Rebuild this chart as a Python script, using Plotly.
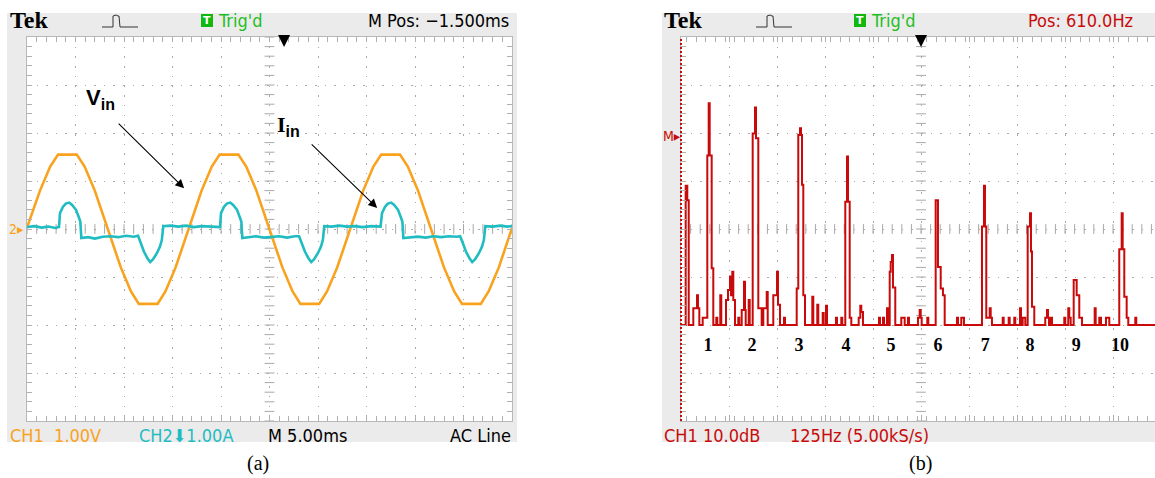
import plotly.graph_objects as go
import numpy as np

W, H = 1155, 478

# ---------------- Panel (a): time domain (t in ms, values in divisions: 1 V/div, 1 A/div)
vin = [(0.0, 0.03), (1.34, 0.8), (2.39, 1.3), (3.2, 1.55), (5.13, 1.55), (5.94, 1.3), (6.99, 0.8),
       (8.33, 0.0), (9.67, -0.8), (10.72, -1.3), (11.53, -1.56), (13.46, -1.56), (14.27, -1.3),
       (15.32, -0.8), (16.66, 0.0), (18.0, 0.8), (19.05, 1.3), (19.86, 1.55), (21.79, 1.55),
       (22.6, 1.3), (23.65, 0.8), (24.99, 0.0), (26.33, -0.8), (27.38, -1.3), (28.19, -1.56),
       (30.12, -1.56), (30.93, -1.3), (31.98, -0.8), (33.32, 0.0), (34.66, 0.8), (35.71, 1.3),
       (36.52, 1.55), (38.45, 1.55), (39.26, 1.3), (40.31, 0.8), (41.65, 0.0), (42.99, -0.8),
       (44.04, -1.3), (44.85, -1.56), (46.78, -1.56), (47.59, -1.3), (48.64, -0.8), (49.98, 0.0),
       (50.0, 0.02)]

iin = [(0.0, 0.04), (0.8, 0.06), (1.5, 0.03), (2.2, 0.05), (2.9, 0.02), (3.3, 0.04), (3.4, 0.33),
       (3.7, 0.46), (4.0, 0.53), (4.35, 0.55), (4.65, 0.5), (5.05, 0.4), (5.35, 0.24), (5.5, 0.15),
       (5.6, -0.19), (6.3, -0.17), (7.0, -0.2), (7.8, -0.16), (8.6, -0.15), (9.4, -0.17),
       (10.2, -0.14), (11.0, -0.16), (11.45, -0.14), (11.65, -0.25), (12.05, -0.47), (12.45, -0.62),
       (12.7, -0.69), (13.0, -0.63), (13.4, -0.5), (13.7, -0.37), (13.9, -0.23), (14.05, 0.06),
       (14.8, 0.07), (15.6, 0.05), (16.4, 0.07), (17.2, 0.04), (18.0, 0.06), (19.0, 0.05),
       (19.9, 0.04), (20.0, 0.33), (20.3, 0.46), (20.6, 0.53), (20.95, 0.55), (21.25, 0.5),
       (21.65, 0.4), (21.95, 0.24), (22.1, 0.15), (22.2, -0.19), (22.9, -0.17), (23.6, -0.15),
       (24.4, -0.18), (25.2, -0.16), (26.0, -0.15), (26.8, -0.18), (27.6, -0.15), (28.05, -0.15),
       (28.25, -0.25), (28.65, -0.47), (29.05, -0.62), (29.3, -0.69), (29.6, -0.63), (30.0, -0.5),
       (30.3, -0.37), (30.5, -0.23), (30.65, 0.06), (31.4, 0.05), (32.2, 0.07), (33.0, 0.05),
       (33.8, 0.06), (34.6, 0.04), (35.5, 0.06), (36.45, 0.05), (36.6, 0.33), (36.9, 0.46),
       (37.2, 0.53), (37.55, 0.55), (37.85, 0.5), (38.25, 0.4), (38.55, 0.24), (38.7, 0.15),
       (38.8, -0.19), (39.5, -0.17), (40.3, -0.16), (41.1, -0.18), (41.9, -0.15), (42.7, -0.17),
       (43.5, -0.15), (44.3, -0.16), (44.65, -0.15), (44.85, -0.25), (45.25, -0.47), (45.65, -0.62),
       (45.9, -0.69), (46.2, -0.63), (46.6, -0.5), (46.9, -0.37), (47.1, -0.23), (47.25, 0.06),
       (48.0, 0.05), (48.8, 0.07), (49.5, 0.05), (50.0, 0.06)]

# ---------------- Panel (b): spectrum (Hz, dB), step trace
spectrum = [(-15.0, -60), (-2.8, -31.0), (1.4, -34.0), (5.1, -60), (17.0, -56.5), (26.7, -53.8),
            (29.3, -56.5), (32.7, -60), (41.5, -58.5), (53.5, -24.7), (57.1, -13.8), (59.7, -24.7),
            (64.9, -48.2), (69.1, -60), (76.9, -58.5), (79.5, -60), (87.3, -53.8), (89.9, -60),
            (102.2, -54.8), (107.4, -52.7), (112.6, -49.9), (115.2, -53.8), (118.6, -48.9),
            (121.2, -54.8), (125.6, -60), (134.2, -58.5), (136.8, -60), (143.1, -56.9),
            (149.1, -51.0), (151.7, -56.9), (153.5, -60), (161.3, -54.8), (163.9, -60),
            (171.7, -20.1), (177.7, -14.7), (180.3, -21.1), (186.3, -56.5), (195.1, -60),
            (199.3, -56.5), (208.2, -53.1), (210.8, -60), (225.3, -53.8), (235.0, -48.9),
            (237.6, -55.8), (242.8, -60), (253.2, -58.5), (255.8, -60), (286.3, -52.4),
            (290.4, -20.4), (294.9, -19.0), (297.5, -20.4), (300.1, -30.8), (303.5, -53.8),
            (307.9, -60), (326.9, -54.1), (329.5, -60), (339.9, -55.8), (342.5, -60),
            (354.0, -57.5), (356.6, -60), (362.6, -56.0), (365.2, -60), (388.6, -58.5),
            (391.2, -60), (402.4, -58.5), (405.0, -60), (412.8, -34.3), (417.3, -24.9),
            (419.9, -34.3), (424.3, -58.5), (428.5, -60), (447.7, -58.5), (451.9, -56.0),
            (454.5, -57.3), (458.9, -60), (500.6, -58.5), (503.2, -60), (511.0, -58.5),
            (513.6, -60), (521.4, -56.5), (524.0, -60), (528.5, -48.9), (531.1, -46.9),
            (534.4, -45.4), (537.0, -52.2), (543.0, -60), (558.7, -58.5), (567.5, -60),
            (576.1, -58.5), (578.7, -60), (602.1, -58.5), (606.6, -56.9), (609.2, -58.5),
            (611.8, -60), (626.4, -58.5), (629.0, -60), (648.2, -34.0), (654.2, -47.9),
            (661.3, -52.4), (667.2, -53.8), (671.7, -60), (703.7, -58.5), (706.3, -60),
            (714.9, -58.5), (721.9, -60), (768.8, -39.5), (774.0, -31.0), (776.6, -39.5),
            (780.0, -58.5), (788.9, -56.5), (791.5, -58.5), (794.8, -60), (822.7, -58.5),
            (825.3, -60), (838.3, -58.5), (840.9, -60), (852.9, -58.5), (855.5, -60),
            (867.8, -56.5), (870.4, -60), (874.8, -58.5), (881.6, -60), (887.8, -39.5),
            (893.8, -36.7), (896.4, -44.7), (899.0, -56.2), (905.0, -60), (933.6, -58.5),
            (938.1, -56.9), (940.7, -58.5), (943.3, -60), (948.5, -58.5), (951.1, -60),
            (983.1, -58.5), (985.7, -60), (993.5, -56.5), (996.1, -58.5), (999.8, -60),
            (1007.6, -50.6), (1015.4, -53.8), (1022.2, -58.5), (1029.2, -60), (1062.3, -56.5),
            (1064.9, -60), (1074.3, -58.5), (1078.7, -60), (1091.7, -58.5), (1100.3, -60),
            (1126.3, -44.2), (1132.6, -36.7), (1135.2, -44.2), (1139.4, -54.1), (1145.6, -58.5),
            (1149.8, -60), (1168.0, -58.5), (1170.6, -60), (1235.0, -60)]

harmonic_labels = ['1', '2', '3', '4', '5', '6', '7', '8', '9', '10']
harmonic_label_f = [55, 170, 292, 415, 532, 654, 777, 894, 1014, 1128]

# ---------------- colours / fonts
ORANGE = '#f9a21e'
CYAN = '#1fbcc2'
RED = '#c80a0a'
GREEN = '#1fbf1f'
GRID = '#a9a9a9'
PANEL = '#ebebeb'
TEKFONT = 'Liberation Sans Narrow, Arial Narrow, DejaVu Sans Condensed, sans-serif'
SERIF = 'Liberation Serif, Times New Roman, serif'
SANS = 'Liberation Sans, Arial, sans-serif'

def px(x):
    return x / W

def py(y):
    return 1 - y / H

# plot geometry (pixels)
A_L, A_R = 27, 512
B_L, B_R = 681, 1155
G_T, G_B = 37, 421

fig = go.Figure()

t_v, v_v = zip(*vin)
t_i, v_i = zip(*iin)
f_s, d_s = zip(*spectrum)

# crosshair ticks
a_cx = np.arange(0, 50.001, 1.0)
a_cy = np.arange(-4, 4.001, 0.2)
b_cx = np.arange(-15, 1220, 25.0)
b_cy = np.arange(-80, 0.001, 2.0)
tickmark = dict(color='#a8a8a8', size=7, line=dict(color='#a8a8a8', width=1))
fig.add_trace(go.Scatter(x=a_cx, y=[0] * len(a_cx), mode='markers', xaxis='x', yaxis='y',
                         marker=dict(symbol='line-ns', **tickmark), hoverinfo='skip'))
fig.add_trace(go.Scatter(x=[25] * len(a_cy), y=a_cy, mode='markers', xaxis='x', yaxis='y',
                         marker=dict(symbol='line-ew', **tickmark), hoverinfo='skip'))
fig.add_trace(go.Scatter(x=b_cx, y=[-40] * len(b_cx), mode='markers', xaxis='x2', yaxis='y2',
                         marker=dict(symbol='line-ns', **tickmark), hoverinfo='skip'))
fig.add_trace(go.Scatter(x=[610] * len(b_cy), y=b_cy, mode='markers', xaxis='x2', yaxis='y2',
                         marker=dict(symbol='line-ew', **tickmark), hoverinfo='skip'))

# waveforms
fig.add_trace(go.Scatter(x=t_v, y=v_v, mode='lines', xaxis='x', yaxis='y',
                         line=dict(color=ORANGE, width=2.6), name='Vin'))
fig.add_trace(go.Scatter(x=t_i, y=v_i, mode='lines', xaxis='x', yaxis='y',
                         line=dict(color=CYAN, width=2.6), name='Iin'))
# spectrum
fig.add_trace(go.Scatter(x=f_s, y=d_s, mode='lines', xaxis='x2', yaxis='y2',
                         line=dict(color=RED, width=2, shape='hv'), name='FFT'))
# harmonic numbers
fig.add_trace(go.Scatter(x=harmonic_label_f, y=[-64.4] * len(harmonic_label_f), mode='text',
                         xaxis='x2', yaxis='y2', text=[f'<b>{s}</b>' for s in harmonic_labels],
                         textfont=dict(family=SERIF, size=18, color='black'), hoverinfo='skip'))

common_x = dict(showticklabels=False, ticks='inside', ticklen=5, tickcolor='#b0b0b0', tickwidth=1,
                showline=True, linecolor='#b8b8b8', linewidth=1, mirror='ticks',
                showgrid=True, gridcolor=GRID, gridwidth=1, griddash='1.5px,8.2px',
                zeroline=False, fixedrange=True)
common_y = dict(showticklabels=False, ticks='inside', ticklen=5, tickcolor='#b0b0b0', tickwidth=1,
                showline=True, linecolor='#b8b8b8', linewidth=1,
                showgrid=True, gridcolor=GRID, gridwidth=1, griddash='1.5px,8.1px',
                zeroline=False, fixedrange=True)

fig.update_layout(
    width=W, height=H, margin=dict(l=0, r=0, t=0, b=0),
    paper_bgcolor='white', plot_bgcolor='white', showlegend=False,
    xaxis=dict(domain=[px(A_L), px(A_R)], range=[0, 50], dtick=5, tick0=0,
               minor=dict(dtick=1, ticks='inside', ticklen=5, tickcolor='#b0b0b0', showgrid=False),
               anchor='y', **common_x),
    yaxis=dict(domain=[py(G_B), py(G_T)], range=[-4, 4], dtick=1, tick0=0,
               minor=dict(dtick=0.2, ticks='inside', ticklen=5, tickcolor='#b0b0b0', showgrid=False),
               anchor='x', mirror='ticks', **common_y),
    xaxis2=dict(domain=[px(B_L), 1.0], range=[-15, -15 + (B_R - B_L) / 48 * 125], dtick=125, tick0=-15,
                minor=dict(dtick=25, ticks='inside', ticklen=5, tickcolor='#b0b0b0', showgrid=False),
                anchor='y2', **common_x),
    yaxis2=dict(domain=[py(G_B), py(G_T)], range=[-80, 0], dtick=10, tick0=0,
                minor=dict(dtick=2, ticks='inside', ticklen=5, tickcolor='#b0b0b0', showgrid=False),
                anchor='x2', mirror=False, **common_y),
)

shapes = []
# grey instrument panels
shapes.append(dict(type='rect', xref='paper', yref='paper', x0=px(7), x1=px(517), y0=py(442), y1=py(13),
                   fillcolor=PANEL, line=dict(width=0), layer='below'))
shapes.append(dict(type='rect', xref='paper', yref='paper', x0=px(662), x1=1.0, y0=py(442), y1=py(13),
                   fillcolor=PANEL, line=dict(width=0), layer='below'))
shapes.append(dict(type='rect', xref='paper', yref='paper', x0=px(A_L), x1=px(A_R), y0=py(G_B), y1=py(G_T),
                   fillcolor='white', line=dict(width=0), layer='below'))
shapes.append(dict(type='rect', xref='paper', yref='paper', x0=px(B_L), x1=1.0, y0=py(G_B), y1=py(G_T),
                   fillcolor='white', line=dict(width=0), layer='below'))
# red dotted left edge of spectrum display
shapes.append(dict(type='line', xref='paper', yref='paper', x0=px(B_L), x1=px(B_L), y0=py(G_B), y1=py(G_T),
                   line=dict(color=RED, width=2, dash='2px,2px')))
# green trigger boxes
for x0 in (201, 854):
    shapes.append(dict(type='rect', xref='paper', yref='paper', x0=px(x0), x1=px(x0 + 12),
                       y0=py(27), y1=py(14), fillcolor='#10b810', line=dict(width=0)))
# trigger-type icons
for x0 in (102, 756):
    path = (f'M {px(x0)} {py(27)} L {px(x0 + 11)} {py(27)} L {px(x0 + 11)} {py(16)} '
            f'L {px(x0 + 14)} {py(15)} L {px(x0 + 16)} {py(16)} L {px(x0 + 17)} {py(16)} '
            f'L {px(x0 + 18)} {py(27)} L {px(x0 + 36)} {py(27)}')
    shapes.append(dict(type='path', xref='paper', yref='paper', path=path,
                       line=dict(color='#333333', width=1)))
fig.update_layout(shapes=shapes)

ann = []

def txt(x, y, s, color='black', size=16, xanchor='left', family=TEKFONT):
    ann.append(dict(x=px(x), y=py(y), xref='paper', yref='paper', text=s, showarrow=False,
                    xanchor=xanchor, yanchor='middle', font=dict(family=family, size=size, color=color)))

# panel (a) status
txt(8, 20, '<b>Tek</b>', size=24, family=SERIF)
txt(207, 20.5, '<b>T</b>', color='white', size=11, xanchor='center', family='DejaVu Sans, sans-serif')
txt(216, 20, "Trig'd", color=GREEN, size=18)
txt(511, 20, 'M Pos: \u22121.500ms', size=18, xanchor='right')
txt(8, 435, 'CH1  1.00V', color=ORANGE, size=18)
txt(137, 435, 'CH2\u2B071.00A', color=CYAN, size=18)
txt(266, 435, 'M 5.00ms', size=18)
txt(513, 435, 'AC Line', size=18, xanchor='right')
txt(7, 229, '2\u25B8', color=ORANGE, size=14)
# panel (b) status
txt(662, 20, '<b>Tek</b>', size=24, family=SERIF)
txt(860, 20.5, '<b>T</b>', color='white', size=11, xanchor='center', family='DejaVu Sans, sans-serif')
txt(869, 20, "Trig'd", color=GREEN, size=18)
txt(1026, 20, 'Pos: 610.0Hz', color=RED, size=18)
txt(662, 435, 'CH1 10.0dB', color=RED, size=18)
txt(788, 435, '125Hz (5.00kS/s)', color=RED, size=18)
txt(661, 136, 'M\u25B8', color=RED, size=14)
# captions
txt(258, 463, '(a)', size=20, xanchor='center', family=SERIF)
txt(920, 463, '(b)', size=20, xanchor='center', family=SERIF)

# signal labels
ann.append(dict(x=7.6, y=2.7, xref='x', yref='y',
                text='<b>V<sub><span style="font-size:16px">in</span></sub></b>', showarrow=False,
                font=dict(family=SANS, size=22, color='black')))
ann.append(dict(x=27.0, y=2.15, xref='x', yref='y',
                text='<b><span style="font-family:Liberation Serif">I</span>'
                     '<sub><span style="font-size:16px">in</span></sub></b>', showarrow=False,
                font=dict(family=SANS, size=22, color='black')))
# pointer arrows
ann.append(dict(x=16.2, y=0.85, xref='x', yref='y', text='', showarrow=True, ax=-67, ay=-66,
                arrowhead=2, arrowsize=1.6, arrowwidth=1.1, arrowcolor='black'))
ann.append(dict(x=36.1, y=0.44, xref='x', yref='y', text='', showarrow=True, ax=-67, ay=-65,
                arrowhead=2, arrowsize=1.6, arrowwidth=1.1, arrowcolor='black'))
# trigger position markers
ann.append(dict(x=26.5, y=py(47), xref='x', yref='paper', text='', showarrow=True, ax=0, ay=-13,
                arrowhead=2, arrowsize=1.2, arrowwidth=2, arrowcolor='black'))
ann.append(dict(x=610, y=py(47), xref='x2', yref='paper', text='', showarrow=True, ax=0, ay=-13,
                arrowhead=2, arrowsize=1.2, arrowwidth=2, arrowcolor='black'))

fig.update_layout(annotations=ann)
fig.write_html('out.html', config={'displayModeBar': False},
               post_script="document.body.style.margin='0px';document.body.style.overflow='hidden';")
